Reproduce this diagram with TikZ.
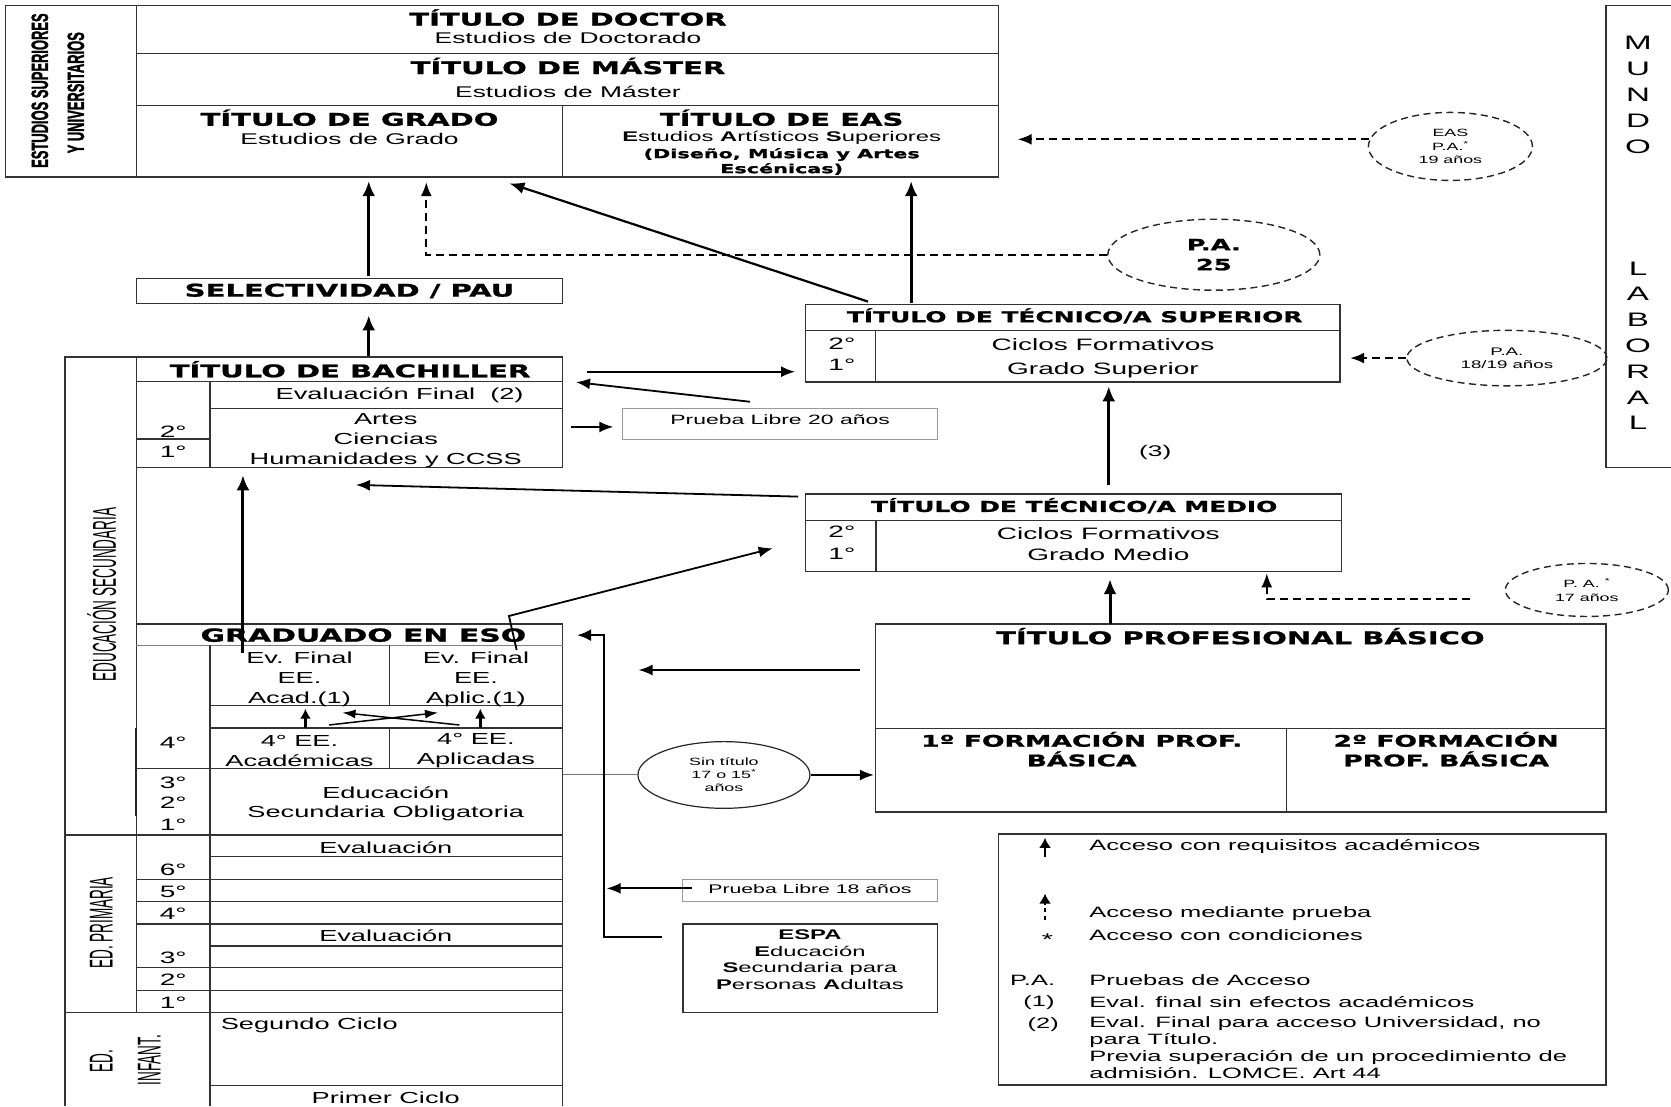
\documentclass[tikz,border=0pt]{standalone}
\usepackage{fontspec}
\setmainfont{Liberation Sans}[FakeStretch=1.7]
\newfontfamily\hdf{DejaVu Sans}[FakeStretch=1.66,FakeBold=1.2]
\newfontfamily\plainf{Liberation Sans}
\newfontfamily\rotbf{Liberation Sans}[FakeBold=2]
\usetikzlibrary{arrows.meta,shapes.geometric}
\begin{document}
\begin{tikzpicture}[x=1.0657pt,y=-1.0657pt,
  bx/.style={draw=black!80,line width=1.3pt},
  gbx/.style={draw=black!40,line width=1.1pt},
  hd/.style={font=\hdf\bfseries\fontsize{17.5}{20}\selectfont,inner sep=0pt,align=center},
  hds/.style={font=\hdf\bfseries\fontsize{15}{17}\selectfont,inner sep=0pt,align=center},
  hdb/.style={font=\hdf\bfseries\fontsize{16}{19.6}\selectfont,inner sep=0pt,align=center},
  tx/.style={font=\fontsize{16}{19.7}\selectfont,inner sep=0pt,align=center},
  lg/.style={font=\fontsize{15}{17.5}\selectfont,inner sep=0pt,anchor=west},
  yr/.style={font=\fontsize{16.5}{20}\selectfont,inner sep=0pt},
  ovl/.style={ellipse,draw=black!85,line width=1.2pt,inner sep=0pt,align=center,font=\fontsize{10.5}{13.2}\selectfont},
  dovl/.style={ovl,line width=1.4pt,dash pattern=on 7pt off 4.5pt},
  arrT/.style={line width=3pt,-{Latex[length=15pt,width=13pt]}},
  arrM/.style={line width=2.2pt,-{Latex[length=15pt,width=12pt]}},
  arrt/.style={line width=1.8pt,-{Latex[length=14pt,width=11pt]}},
  dsh/.style={line width=1.8pt,dash pattern=on 8pt off 5pt,-{Latex[length=14pt,width=11pt]}},
  rl/.style={rotate=90,inner sep=0pt,font=\plainf\fontsize{33}{34}\selectfont},
  rlb/.style={rotate=90,inner sep=0pt,font=\rotbf\bfseries\fontsize{23.5}{24}\selectfont},
]
\useasboundingbox (0,0) rectangle (1568,1038);

% ---------------- top block ----------------
\draw[bx] (5,5) rectangle (937,166);
\draw[bx] (128,5) -- (128,166);
\draw[bx] (128,50) -- (937,50) (128,99) -- (937,99) (528,99) -- (528,166);
\node[hd] (doc) at (533,16.5) {TÍTULO DE DOCTOR};
\node[tx,font=\fontsize{15.5}{18}\selectfont] (docs) at (533,36) {Estudios de Doctorado};
\node[hd] (mas) at (533,62) {TÍTULO DE MÁSTER};
\node[tx,font=\fontsize{15.5}{18}\selectfont] (mass) at (533,86) {Estudios de Máster};
\node[hd] (gra) at (328,110.5) {TÍTULO DE GRADO};
\node[tx,font=\fontsize{15.5}{18}\selectfont] (gras) at (328,130) {Estudios de Grado};
\node[hd] (eas) at (733.5,110.5) {TÍTULO DE EAS};
\node[tx,font=\fontsize{14}{16}\selectfont] (eass) at (733.5,129.5) {\textbf{E}studios \textbf{A}rtísticos \textbf{S}uperiores};
\node[hd,font=\hdf\bfseries\fontsize{12.5}{15}\selectfont] (easd) at (733.5,151.5) {(Diseño, Música y Artes\\Escénicas)};
\node[rlb] (lab1) at (37.4,85) {\scalebox{0.55}[1]{ESTUDIOS SUPERIORES}};
\node[rlb] (lab2) at (71.2,87) {\scalebox{0.55}[1]{Y UNIVERSITARIOS}};

% ---------------- mundo laboral ----------------
\draw[bx] (1568,5) -- (1507,5) -- (1507,439) -- (1568,439);
\node[font=\fontsize{19.5}{25.8}\selectfont,align=center,inner sep=0pt] (mundo) at (1537,89) {M\\U\\N\\D\\O};
\node[font=\fontsize{19.5}{25.8}\selectfont,align=center,inner sep=0pt] (laboral) at (1537,324.4) {L\\A\\B\\O\\R\\A\\L};

% ---------------- ellipses ----------------
\node[dovl,minimum width=164pt,minimum height=68pt] (peas) at (1361,137.4) {EAS\\P.A.\textsuperscript{*}\\19 años};
\node[dovl,minimum width=212pt,minimum height=71pt,font=\hdf\bfseries\fontsize{15.5}{20}\selectfont] (pa25) at (1139,239) {P.A.\\25};
\node[dovl,minimum width=200pt,minimum height=55.5pt,font=\fontsize{11}{13.5}\selectfont] (pa18) at (1414,336) {P.A.\\18/19 años};
\node[dovl,minimum width=163pt,minimum height=53pt] (pa17) at (1489,553.6) {P. A. \textsuperscript{*}\\17 años};
\node[ovl,minimum width=172pt,minimum height=66.7pt] (sint) at (679.3,727.2) {Sin título\\17 o 15\textsuperscript{*}\\años};

% dashed connectors
\coordinate (easR) at (955,131);
\draw[dsh] (peas.175) -- (peas.175 -| easR);
\coordinate (graP) at (400,171);
\draw[dsh] (pa25.west) -| (graP);
\coordinate (tsR) at (1267,336);
\draw[dsh] (pa18.west) -- (tsR);
\coordinate (pa17s) at (1379,562.4);
\coordinate (tmB) at (1188.7,538);
\draw[dsh] (pa17s) -| (tmB);

% ---------------- selectividad / bachiller ----------------
\draw[bx] (128,261) rectangle (528,285);
\node[hd] (pau) at (328,273) {SELECTIVIDAD / PAU};
\draw[bx] (128,335) rectangle (528,439);
\draw[bx] (128,358) -- (528,358) (197,358) -- (197,439) (197,383) -- (528,383) (128,412) -- (197,412);
\node[hd] (bach) at (328.5,346.5) {TÍTULO DE BACHILLER};
\node[tx] (evf) at (375,371) {Evaluación Final\ \ (2)};
\node[tx] (mod) at (362,413.5) {Artes\\Ciencias\\Humanidades y CCSS};
\node[yr] (b2) at (162.5,405) {2°};
\node[yr] (b1) at (162.5,423.5) {1°};

% outer frame of the left column
\draw[bx] (128,335) -- (61,335) -- (61,1038);
\draw[bx] (128,439) -- (128,950);
\node[rl] (lsec) at (95.5,558) {\scalebox{0.41}[1]{EDUCACIÓN SECUNDARIA}};
\node[rl] (lpri) at (95,866) {\scalebox{0.41}[1]{ED. PRIMARIA}};
\node[rl] (linf1) at (95,995.5) {\scalebox{0.41}[1]{ED.}};
\node[rl] (linf2) at (140,994.6) {\scalebox{0.41}[1]{INFANT.}};

% ---------------- ESO ----------------
\draw[bx] (128,585.5) -- (528,585.5) -- (528,1038);
\draw[draw=black!50,line width=1.1pt] (128,605.3) -- (528,605.3);
\draw[bx] (197,605.3) -- (197,1038);
\draw[bx] (365.2,605.3) -- (365.2,662.2) (365.2,683.2) -- (365.2,721);
\draw[bx] (197,662.2) -- (528,662.2) (197,683.2) -- (528,683.2) (128,721) -- (528,721);
\draw[bx] (61,783.5) -- (528,783.5);
\draw[line width=2pt,black!85] (128,683.2) -- (128,766);
\node[hd,font=\hdf\bfseries\fontsize{18}{20}\selectfont] (eso) at (341,596) {GRADUADO EN ESO};
\node[tx] (evac) at (281,637.5) {Ev. Final\\EE.\\Acad.(1)};
\node[tx] (evap) at (446.6,637.5) {Ev. Final\\EE.\\Aplic.(1)};
\node[tx] (eac) at (281,704.5) {4° EE.\\Académicas};
\node[tx] (eap) at (446.6,704.5) {4° EE.\\Aplicadas};
\node[tx] (eso13) at (362,754.3) {Educación\\Secundaria Obligatoria};
\node[yr] (e4) at (162.5,697) {4°};
\node[yr] (e3) at (162.5,734.5) {3°};
\node[yr] (e2) at (162.5,753.5) {2°};
\node[yr] (e1) at (162.5,773.5) {1°};

% small arrows inside ESO
\coordinate (sa1) at (286.6,683); \coordinate (sa1t) at (286.6,665);
\coordinate (sa2) at (450.7,683); \coordinate (sa2t) at (450.7,665);
\coordinate (sx1) at (308.8,680.3); \coordinate (sx1t) at (411,668.7);
\coordinate (sx2) at (431,680.3); \coordinate (sx2t) at (321.4,668.7);
\draw[line width=2.4pt,-{Latex[length=10pt,width=11pt]}] (sa1) -- (sa1t);
\draw[line width=2.4pt,-{Latex[length=10pt,width=11pt]}] (sa2) -- (sa2t);
\draw[line width=1.5pt,-{Latex[length=13pt,width=9pt]}] (sx1) -- (sx1t);
\draw[line width=1.5pt,-{Latex[length=13pt,width=9pt]}] (sx2) -- (sx2t);

% ---------------- primaria / infantil ----------------
\draw[bx] (197,803.8) -- (528,803.8) (128,825.1) -- (528,825.1) (128,846.1) -- (528,846.1)
  (128,867) -- (528,867) (197,887.7) -- (528,887.7) (128,908) -- (528,908)
  (128,929.6) -- (528,929.6) (61,950.3) -- (528,950.3) (197,1018.7) -- (528,1018.7);
\node[tx] (ev1) at (362,795) {Evaluación};
\node[tx] (ev2) at (362,878) {Evaluación};
\node[yr] (p6) at (162.5,816) {6°};
\node[yr] (p5) at (162.5,836.5) {5°};
\node[yr] (p4) at (162.5,857.5) {4°};
\node[yr] (p3) at (162.5,898.5) {3°};
\node[yr] (p2) at (162.5,919.5) {2°};
\node[yr] (p1) at (162.5,940.5) {1°};
\node[tx,anchor=west] (seg) at (207,962.5) {Segundo Ciclo};
\node[tx] (pri) at (362,1030) {Primer Ciclo};

% ---------------- tecnico superior / medio ----------------
\draw[bx] (756,285.5) rectangle (1257.5,358.5);
\draw[bx] (756,310) -- (1257.5,310) (821.7,310) -- (821.7,358.5);
\node[hds] (tsup) at (1008.5,296.5) {TÍTULO DE TÉCNICO/A SUPERIOR};
\node[yr] (ts2) at (790,322.5) {2°};
\node[yr] (ts1) at (790,342) {1°};
\node[tx,font=\fontsize{16.5}{23.5}\selectfont] (tsc) at (1035,336) {Ciclos Formativos\\Grado Superior};

\draw[bx] (756,463.5) rectangle (1258.7,536.4);
\draw[bx] (756,488.6) -- (1258.7,488.6) (822,488.6) -- (822,536.4);
\node[hds] (tmed) at (1008,474.5) {TÍTULO DE TÉCNICO/A MEDIO};
\node[yr] (tm2) at (790,498.5) {2°};
\node[yr] (tm1) at (790,520) {1°};
\node[tx,font=\fontsize{16.5}{21}\selectfont] (tmc) at (1040,511) {Ciclos Formativos\\Grado Medio};
\node[tx,font=\fontsize{15.5}{18}\selectfont] (n3) at (1084,425) {(3)};

% ---------------- profesional basico ----------------
\draw[bx] (821.5,585.5) rectangle (1507,762);
\draw[bx] (821.5,683.4) -- (1507,683.4) (1207,683.4) -- (1207,762);
\node[hd] (tpb) at (1164,597) {TÍTULO PROFESIONAL BÁSICO};
\node[hdb] (fp1) at (1015,703) {1º FORMACIÓN PROF.\\BÁSICA};
\node[hdb] (fp2) at (1357,703) {2º FORMACIÓN\\PROF. BÁSICA};

% ---------------- pruebas libres, ESPA ----------------
\draw[gbx] (584,383) rectangle (880,412);
\node[tx,font=\fontsize{13.5}{16}\selectfont] (pl20) at (732,393.5) {Prueba Libre 20 años};
\draw[gbx] (640.6,825) rectangle (880,845.5);
\node[tx,font=\fontsize{12.5}{15}\selectfont] (pl18) at (760,834.5) {Prueba Libre 18 años};
\draw[bx] (641,867) rectangle (880,950.3);
\node[tx,font=\fontsize{14}{16.5}\selectfont] (espa) at (760,900.5) {\textbf{ESPA}\\\textbf{E}ducación\\\textbf{S}ecundaria para\\\textbf{P}ersonas \textbf{A}dultas};

% ---------------- solid connectors ----------------
\coordinate (pauT) at (346,259); \coordinate (graB) at (346,170);
\draw[arrT] (pauT) -- (graB);
\coordinate (bachT) at (346,334); \coordinate (pauB) at (346,296);
\draw[arrT] (bachT) -- (pauB);
\coordinate (tsTL) at (814.5,283); \coordinate (graBR) at (478,172);
\draw[arrM] (tsTL) -- (graBR);
\coordinate (tsT) at (855,284); \coordinate (easB) at (855,170);
\draw[arrT] (tsT) -- (easB);
\coordinate (bachR) at (550.5,348.8); \coordinate (tsL) at (746,348.8);
\draw[arrt] (bachR) -- (tsL);
\coordinate (tsLb) at (703.8,377); \coordinate (bachRb) at (540.5,358.6);
\draw[arrt] (tsLb) -- (bachRb);
\coordinate (bachRc) at (536,400.6); \coordinate (pl20L) at (575.5,400.6);
\draw[arrt] (bachRc) -- (pl20L);
\coordinate (tmTL) at (749,466); \coordinate (bachB) at (334,455);
\draw[arrt] (tmTL) -- (bachB);
\coordinate (tmT) at (1040.4,455); \coordinate (tsB) at (1040.4,362.5);
\draw[arrT] (tmT) -- (tsB);
\coordinate (evacT) at (228,613); \coordinate (bachBL) at (228,446);
\draw[arrT] (evacT) -- (bachBL);
\coordinate (evapT) at (484.8,610); \coordinate (esoK) at (477.6,578); \coordinate (tmL) at (725,514.5);
\draw[arrt] (evapT) -- (esoK) -- (tmL);
\coordinate (tpbL) at (807,628.7); \coordinate (esoR) at (599.2,628.7);
\draw[arrt] (tpbL) -- (esoR);
\coordinate (tpbT) at (1041.6,585.5); \coordinate (tmBB) at (1041.6,543.5);
\draw[arrT] (tpbT) -- (tmBB);
\coordinate (eso3R) at (528,726.3);
\draw[draw=black!55,line width=1pt] (eso3R) -- (sint.west |- eso3R);
\coordinate (tpbL2) at (820,727.2);
\draw[arrt] (sint.east) -- (tpbL2);
\coordinate (espaL) at (621,879); \coordinate (esoV) at (567,596); \coordinate (esoTR) at (541.5,596);
\draw[line width=2.4pt,-{Latex[length=14pt,width=12pt]}] (espaL) -| (esoV) -- (esoTR);
\coordinate (pl18L) at (649,833.6); \coordinate (vline) at (569.3,833.6);
\draw[arrt] (pl18L) -- (vline);

% ---------------- legend ----------------
\draw[bx] (937,782.6) rectangle (1507,1018);
\coordinate (lg1) at (980.6,804); \coordinate (lg1t) at (980.6,786.2);
\draw[line width=2.6pt,-{Latex[length=10pt,width=12pt]}] (lg1) -- (lg1t);
\coordinate (lg2) at (980.6,863); \coordinate (lg2t) at (980.6,838.5);
\draw[line width=2.6pt,dash pattern=on 4pt off 3.5pt,-{Latex[length=10pt,width=12pt]}] (lg2) -- (lg2t);
\node[lg] (l1) at (1022,794.5) {Acceso con requisitos académicos};
\node[lg] (l2) at (1022,857) {Acceso mediante prueba};
\node[lg] (l3) at (1022,877.5) {Acceso con condiciones};
\node[font=\fontsize{17}{17}\selectfont,inner sep=0pt] (lstar) at (983,882) {*};
\node[font=\fontsize{15}{17.5}\selectfont,inner sep=0pt] (lpa) at (969,919.5) {P.A.};
\node[lg] (l4) at (1022,919.5) {Pruebas de Acceso};
\node[font=\fontsize{15}{17.5}\selectfont,inner sep=0pt] (lp1) at (975,940.5) {(1)};
\node[lg] (l5) at (1022,940.5) {Eval. final sin efectos académicos};
\node[font=\fontsize{15}{17.5}\selectfont,inner sep=0pt] (lp2) at (979,961.5) {(2)};
\node[lg,anchor=north west,align=left,font=\fontsize{15}{17.2}\selectfont] (l6) at (1022,953.5) {Eval. Final para acceso Universidad, no\\para Título.\\Previa superación de un procedimiento de\\admisión. LOMCE. Art 44};
\end{tikzpicture}
\end{document}
